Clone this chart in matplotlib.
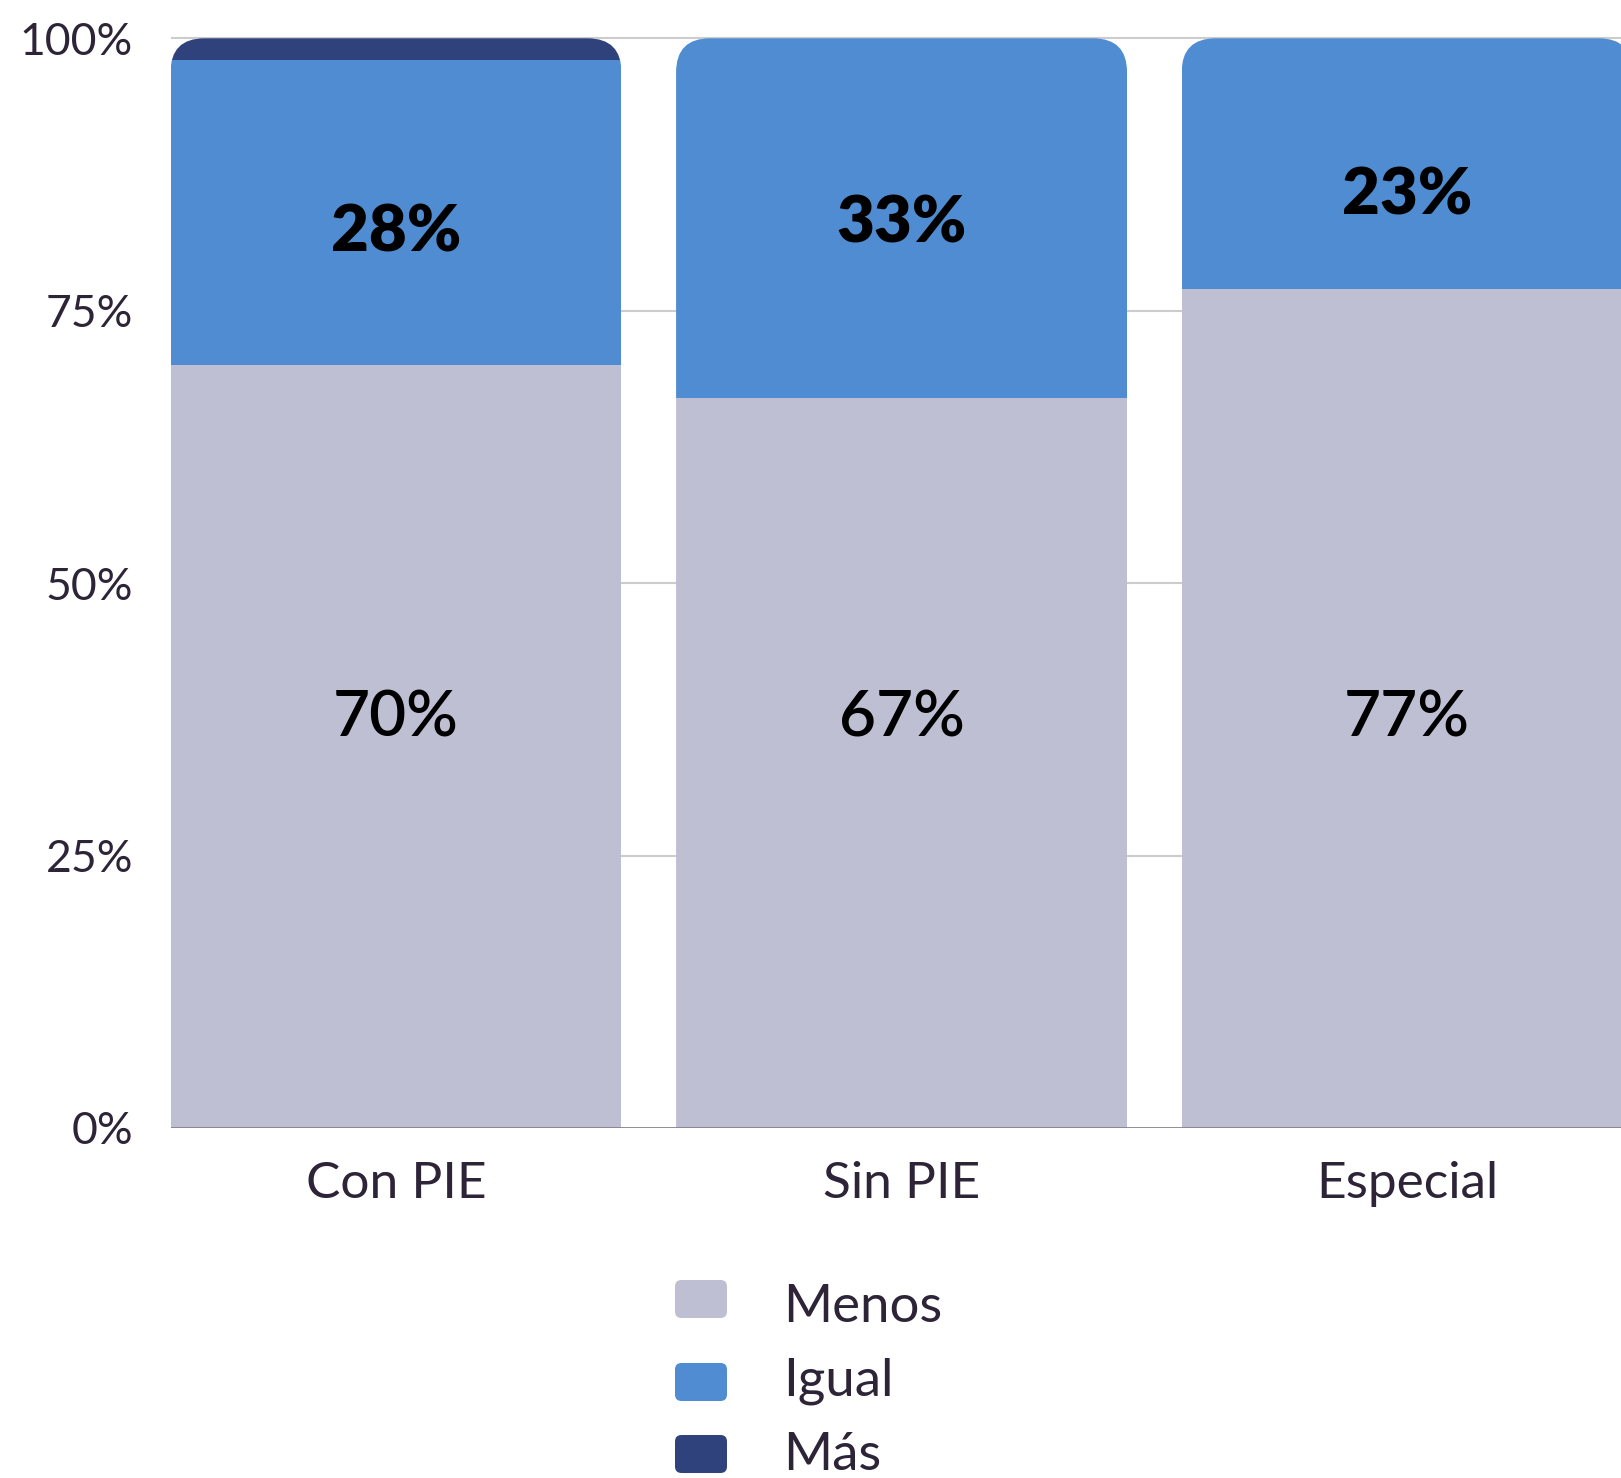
import matplotlib
matplotlib.use("Agg")
import matplotlib.pyplot as plt
from matplotlib.patches import FancyBboxPatch
from matplotlib.transforms import IdentityTransform
import numpy as np

# ---- data ----
categories = ["Con PIE", "Sin PIE", "Especial"]
series_names = ["Menos", "Igual", "Más"]
menos = [70, 67, 77]
igual = [28, 33, 23]
mas = [2, 0, 0]
yticks = [0, 25, 50, 75, 100]
ytick_labels = ["0%", "25%", "50%", "75%", "100%"]
menos_labels = ["70%", "67%", "77%"]
igual_labels = ["28%", "33%", "23%"]
# label anchor heights (data units)
menos_label_y = [37.6, 37.6, 37.6]
igual_label_y = [82.1, 83.0, 85.5]

colors = ["#bfbfd4", "#508cd1", "#2f427b"]
text_color = "#2d2437"
FONT = ["Lato", "DejaVu Sans"]
plt.rcParams["font.family"] = FONT

W, H = 1621, 1478
fig = plt.figure(figsize=(W / 100, H / 100), dpi=100)

# axes geometry in pixels
ax_left = 170.5
ax_right = W
y0_px = 1128.0
px_per_unit = 10.897
ytop = 103.0
ax_top_px = y0_px - ytop * px_per_unit
ax = fig.add_axes([ax_left / W, (H - y0_px) / H, (ax_right - ax_left) / W,
                   (y0_px - ax_top_px) / H])

bar_w = 0.892
x = np.arange(len(categories))
ax.set_xlim(-0.446, 2.423)
ax.set_ylim(0, ytop)

bottoms = np.zeros(len(categories))
containers = []
for vals, col in zip([menos, igual, mas], colors):
    c = ax.bar(x, vals, bar_w, bottom=bottoms, color=col, linewidth=0, zorder=2)
    containers.append(c)
    bottoms = bottoms + np.array(vals)

# rounded top corners: clip each stack to a rounded rect in display coords
fig.canvas.draw()
r = 34
for i in range(len(categories)):
    (dx0, dy0) = ax.transData.transform((x[i] - bar_w / 2, 0))
    (dx1, dy1) = ax.transData.transform((x[i] + bar_w / 2, bottoms[i]))
    clip = FancyBboxPatch((dx0, dy0 - 2 * r), dx1 - dx0, dy1 - dy0 + 2 * r,
                          boxstyle=f"round,pad=0,rounding_size={r}",
                          transform=IdentityTransform())
    for c in containers:
        c.patches[i].set_clip_path(clip)

# grid & baseline
for t in yticks[1:]:
    ax.axhline(t, color="#cccccc", lw=1.5, zorder=1)
ax.axhline(0, color="#86818f", lw=2, zorder=3)

for s in ax.spines.values():
    s.set_visible(False)
ax.set_yticks(yticks)
ax.set_yticklabels(ytick_labels, fontsize=32, color=text_color, fontweight="normal")
ax.set_xticks(x)
ax.set_xticklabels(categories, fontsize=37, color=text_color, fontweight="normal")
ax.tick_params(axis="y", length=0, pad=27)
ax.tick_params(axis="x", length=0, pad=24)

# value labels
for i in range(len(categories)):
    ax.text(x[i], igual_label_y[i], igual_labels[i], ha="center", va="center",
            fontsize=47, fontweight="heavy", color="black", zorder=4)
    ax.text(x[i], menos_label_y[i], menos_labels[i], ha="center", va="center",
            fontsize=46, fontweight="semibold", color="black", zorder=4)

# legend (manual)
leg_rows_px = [1299, 1382, 1454]
leg_text_px = [1308, 1381, 1455]
hx, hw, hh = 675, 52, 38
for name, col, yc, yt in zip(series_names, colors, leg_rows_px, leg_text_px):
    p = FancyBboxPatch(((hx) / W, (H - yc - hh / 2) / H), hw / W, hh / H,
                       boxstyle="round,pad=0,rounding_size=0.004",
                       mutation_aspect=W / H,
                       transform=fig.transFigure, facecolor=col, edgecolor="none")
    fig.patches.append(p)
    fig.text(783 / W, (H - yt) / H, name, ha="left", va="center",
             fontsize=38, color=text_color)

fig.savefig("out.png", dpi=100)
